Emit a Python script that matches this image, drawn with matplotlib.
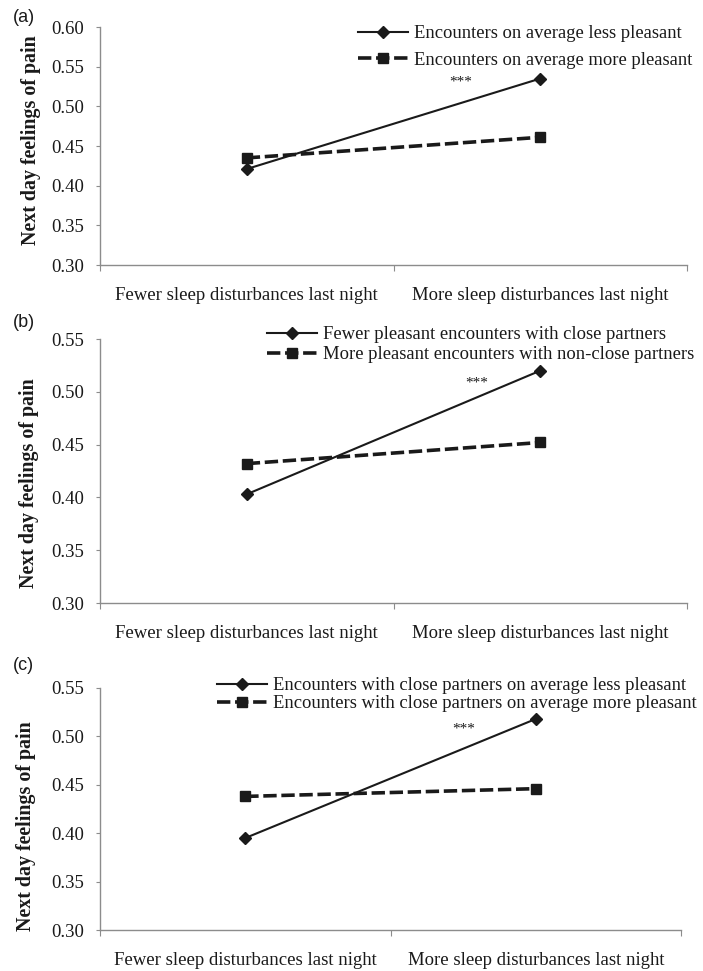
import matplotlib
matplotlib.use("Agg")
import matplotlib.pyplot as plt
from matplotlib.ticker import FixedLocator, NullFormatter, FixedFormatter

categories = ["Fewer sleep disturbances last night", "More sleep disturbances last night"]

labels_a = ["Encounters on average less pleasant", "Encounters on average more pleasant"]
solid_a = [0.421, 0.535]
dashed_a = [0.435, 0.461]

labels_b = ["Fewer pleasant encounters with close partners", "More pleasant encounters with non-close partners"]
solid_b = [0.403, 0.520]
dashed_b = [0.432, 0.452]

labels_c = ["Encounters with close partners on average less pleasant",
            "Encounters with close partners on average more pleasant"]
solid_c = [0.395, 0.518]
dashed_c = [0.438, 0.446]

yticks_a = [0.30, 0.35, 0.40, 0.45, 0.50, 0.55, 0.60]
yticks_bc = [0.30, 0.35, 0.40, 0.45, 0.50, 0.55]

W, H = 703, 971
fig = plt.figure(figsize=(W / 100, H / 100), dpi=100)
serif = "Liberation Serif"
gray = "#8c8c8c"
txt = "#1a1a1a"

panels = [
    dict(tag="(a)", rect=(100, 27, 687, 265), solid=solid_a, dashed=dashed_a, labels=labels_a,
         yticks=yticks_a, ylim=(0.30, 0.60), leg=(358, 25), spacing=0.52, star=(461, 82), tagpos=(13, 17),
         ylab=(31, 140)),
    dict(tag="(b)", rect=(100, 339, 687, 603), solid=solid_b, dashed=dashed_b, labels=labels_b,
         yticks=yticks_bc, ylim=(0.30, 0.55), leg=(267, 326), spacing=0.16, star=(477, 383), tagpos=(13, 322),
         ylab=(29, 483)),
    dict(tag="(c)", rect=(100, 688, 681, 930), solid=solid_c, dashed=dashed_c, labels=labels_c,
         yticks=yticks_bc, ylim=(0.30, 0.55), leg=(217, 677), spacing=0.07, star=(464, 729), tagpos=(13, 665),
         ylab=(26, 826)),
]

xpos = [0.5, 1.5]
for p in panels:
    l, t, r, b = p["rect"]
    ax = fig.add_axes([l / W, 1 - b / H, (r - l) / W, (b - t) / H])
    ax.plot(xpos, p["solid"], color=txt, lw=1.5, marker="D", markersize=6.5, label=p["labels"][0])
    ax.plot(xpos, p["dashed"], color=txt, lw=2.6, dashes=(3.7, 1.3), marker="s", markersize=7.5,
            label=p["labels"][1])
    ax.set_xlim(0, 2)
    ax.set_ylim(*p["ylim"])
    ax.set_yticks(p["yticks"])
    ax.set_yticklabels([f"{v:.2f}" for v in p["yticks"]], fontfamily=serif, fontsize=13.5, color=txt)
    ax.xaxis.set_major_locator(FixedLocator([0, 1, 2]))
    ax.xaxis.set_major_formatter(NullFormatter())
    ax.xaxis.set_minor_locator(FixedLocator(xpos))
    ax.xaxis.set_minor_formatter(FixedFormatter(categories))
    ax.tick_params(axis="x", which="minor", length=0, pad=16, labelsize=13.5, labelcolor=txt)
    ax.tick_params(axis="x", which="major", length=4, color=gray, direction="out")
    ax.tick_params(axis="y", length=3, color=gray, pad=8.5)
    for lab in ax.xaxis.get_minorticklabels():
        lab.set_fontfamily(serif)
    for s in ["top", "right"]:
        ax.spines[s].set_visible(False)
    for s in ["left", "bottom"]:
        ax.spines[s].set_color(gray)
        ax.spines[s].set_linewidth(1.0)
    ax.set_ylabel("Next day feelings of pain", fontfamily=serif, fontweight="bold", fontsize=14.4,
                  color=txt, va="center")
    yx, yy = p["ylab"]
    ax.yaxis.set_label_coords((yx - l) / (r - l), (b - yy) / (b - t))
    lx, ly = p["leg"]
    ax.legend(loc="upper left", bbox_to_anchor=(lx / W, 1 - ly / H), bbox_transform=fig.transFigure,
              frameon=False, prop={"family": serif, "size": 13.4}, handlelength=2.7,
              handletextpad=0.3, labelspacing=p["spacing"], borderpad=0, borderaxespad=0,
              labelcolor=txt)
    sx, sy = p["star"]
    fig.text(sx / W, 1 - sy / H, "***", ha="center", va="center", fontfamily=serif, fontsize=11, color=txt)
    tx, ty = p["tagpos"]
    fig.text(tx / W, 1 - ty / H, p["tag"], ha="left", va="center", fontfamily="Liberation Sans",
             fontsize=13, color=txt)

fig.savefig("out.png", dpi=100)
